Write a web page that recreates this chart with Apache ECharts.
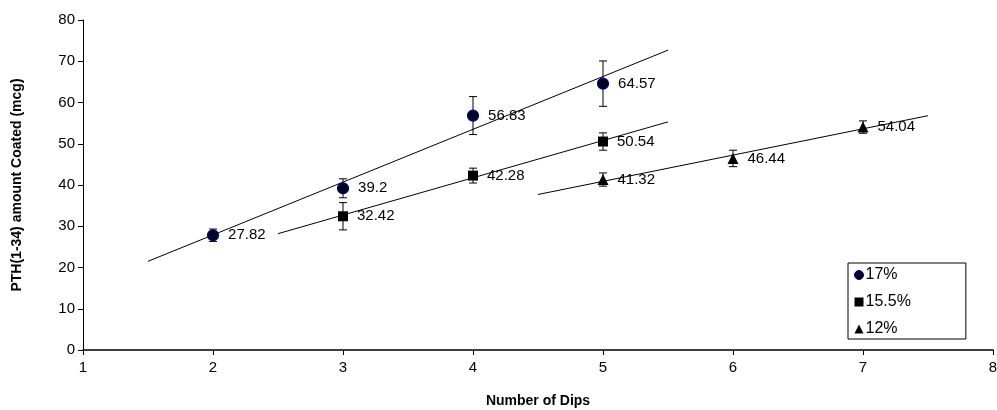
<!DOCTYPE html>
<html>
<head>
<meta charset="utf-8">
<script src="https://cdn.jsdelivr.net/npm/echarts@6/dist/echarts.min.js"></script>
<style>
html,body{margin:0;padding:0;background:#fff;}
#c{width:997px;height:410px;}
</style>
</head>
<body>
<div id="c"></div>
<script>
// Data
var seriesNames = ['17%', '15.5%', '12%'];
var dips17 = [2, 3, 4, 5];
var vals17 = [27.82, 39.2, 56.83, 64.57];
var err17 = [1.5, 2.3, 4.6, 5.5];
var dips155 = [3, 4, 5];
var vals155 = [32.42, 42.28, 50.54];
var err155 = [3.3, 1.8, 2.1];
var dips12 = [5, 6, 7];
var vals12 = [41.32, 46.44, 54.04];
var err12 = [1.6, 2.0, 1.5];
// trendline endpoints
var trend17 = [[1.5, 21.5], [5.5, 72.7]];
var trend155 = [[2.5, 28.2], [5.5, 55.3]];
var trend12 = [[4.5, 37.7], [7.5, 56.8]];
var xTicks = [1, 2, 3, 4, 5, 6, 7, 8];
var yTicks = [0, 10, 20, 30, 40, 50, 60, 70, 80];

var font = 'Liberation Sans, Arial, sans-serif';

function pts(xs, ys) { return xs.map(function (x, i) { return [x, ys[i]]; }); }
function errPts(xs, ys, es) { return xs.map(function (x, i) { return [x, ys[i], es[i]]; }); }

function errSeries(data) {
  return {
    type: 'custom',
    data: data,
    z: 2,
    silent: true,
    encode: { x: 0, y: 1 },
    renderItem: function (params, api) {
      var x = api.value(0), y = api.value(1), e = api.value(2);
      var top = api.coord([x, y + e]);
      var bot = api.coord([x, y - e]);
      var w = 4;
      var st = { stroke: '#000', lineWidth: 1 };
      return {
        type: 'group',
        children: [
          { type: 'line', shape: { x1: top[0], y1: top[1], x2: bot[0], y2: bot[1] }, style: st },
          { type: 'line', shape: { x1: top[0] - w, y1: top[1], x2: top[0] + w, y2: top[1] }, style: st },
          { type: 'line', shape: { x1: bot[0] - w, y1: bot[1], x2: bot[0] + w, y2: bot[1] }, style: st }
        ]
      };
    }
  };
}

function trendSeries(d) {
  return {
    type: 'line', data: d, showSymbol: false, silent: true, z: 1,
    lineStyle: { color: '#000', width: 1 }
  };
}

var labelCfg = {
  show: true, position: 'right', distance: 9, color: '#000',
  fontFamily: font, fontSize: 15,
  formatter: function (p) { return String(p.value[1]); }
};

var chart = echarts.init(document.getElementById('c'));
chart.setOption({
  animation: false,
  backgroundColor: '#fff',
  grid: { left: 83, right: 4, top: 20, bottom: 60, containLabel: false, outerBoundsMode: 'none' },
  legend: {
    orient: 'vertical',
    left: 848, top: 263,
    padding: [4, 55, 2, 6],
    borderColor: '#000', borderWidth: 1,
    itemWidth: 9, itemHeight: 9, itemGap: 11,
    textStyle: { fontFamily: font, fontSize: 16, color: '#000', padding: [0, 0, 0, -3] },
    data: [
      { name: '17%', icon: 'circle', itemStyle: { color: '#000022', borderColor: '#000080', borderWidth: 1 } },
      { name: '15.5%', icon: 'rect', itemStyle: { color: '#000' } },
      { name: '12%', icon: 'triangle', itemStyle: { color: '#000' } }
    ]
  },
  xAxis: {
    type: 'value', min: 1, max: 8, interval: 1,
    name: 'Number of Dips', nameLocation: 'middle', nameGap: 44,
    nameTextStyle: { fontFamily: font, fontSize: 14, fontWeight: 'bold', color: '#000' },
    axisLine: { show: true, onZero: false, lineStyle: { color: '#000', width: 1.5 } },
    axisTick: { show: true, inside: false, length: 5, lineStyle: { color: '#000' } },
    axisLabel: { fontFamily: font, fontSize: 15, color: '#000', margin: 10 },
    splitLine: { show: false }
  },
  yAxis: {
    type: 'value', min: 0, max: 80, interval: 10,
    name: 'PTH(1-34) amount Coated (mcg)', nameLocation: 'middle', nameGap: 59,
    nameTextStyle: { fontFamily: font, fontSize: 14, fontWeight: 'bold', color: '#000' },
    axisLine: { show: true, lineStyle: { color: '#000', width: 1 } },
    axisTick: { show: true, inside: false, length: 5, lineStyle: { color: '#000' } },
    axisLabel: { fontFamily: font, fontSize: 15, color: '#000', margin: 8 },
    splitLine: { show: false }
  },
  series: [
    trendSeries(trend17),
    trendSeries(trend155),
    trendSeries(trend12),
    errSeries(errPts(dips17, vals17, err17)),
    errSeries(errPts(dips155, vals155, err155)),
    errSeries(errPts(dips12, vals12, err12)),
    {
      name: '17%', type: 'scatter', data: pts(dips17, vals17), z: 3,
      symbol: 'circle', symbolSize: 11,
      itemStyle: { color: '#000022', borderColor: '#000080', borderWidth: 1.2, opacity: 1 },
      label: labelCfg
    },
    {
      name: '15.5%', type: 'scatter', data: pts(dips155, vals155), z: 3,
      symbol: 'rect', symbolSize: 10,
      itemStyle: { color: '#000', opacity: 1 },
      label: labelCfg
    },
    {
      name: '12%', type: 'scatter', data: pts(dips12, vals12), z: 3,
      symbol: 'triangle', symbolSize: 11,
      itemStyle: { color: '#000', opacity: 1 },
      label: labelCfg
    }
  ]
});
</script>
</body>
</html>
